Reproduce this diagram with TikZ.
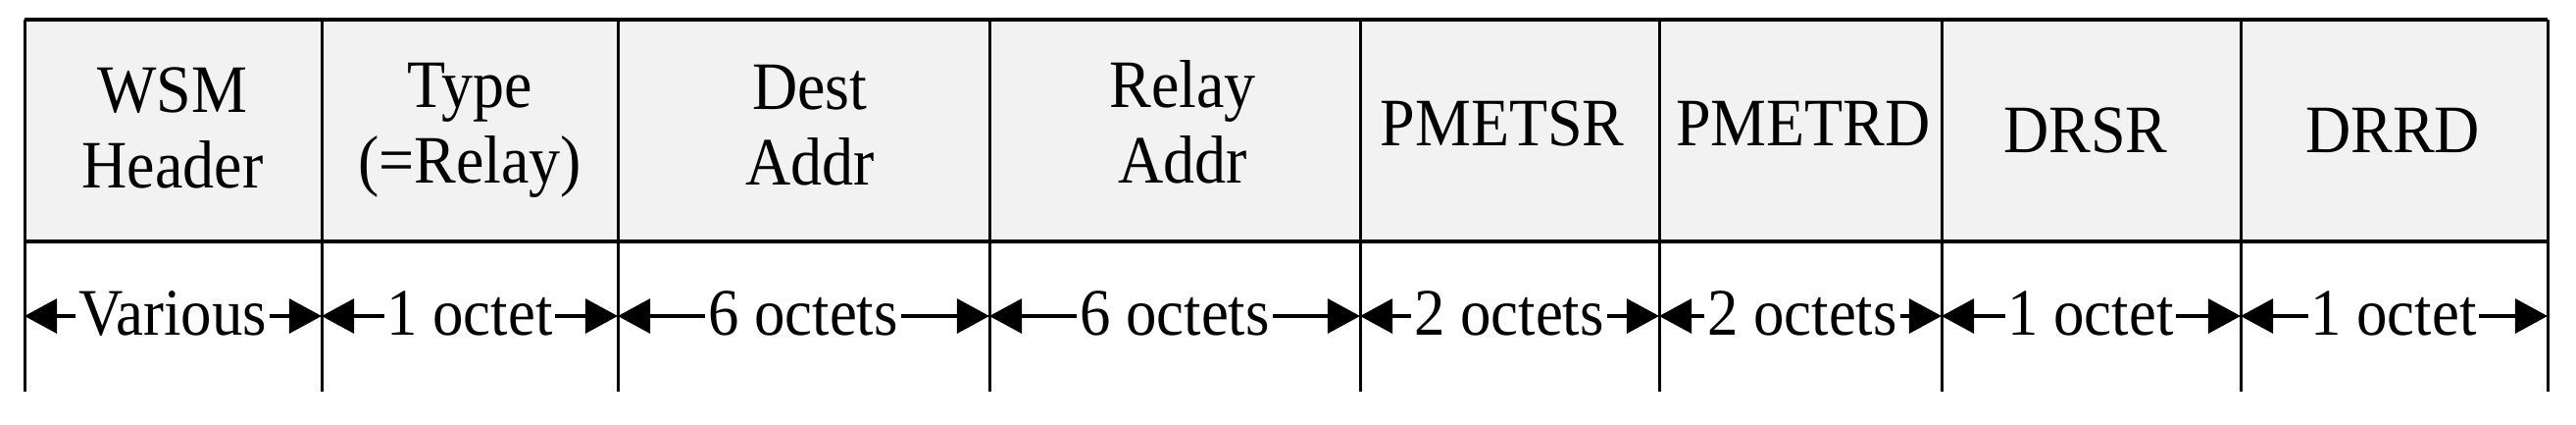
\documentclass[tikz,border=0pt]{standalone}
\usepackage{fontspec}
\usepackage{graphicx}
\setmainfont{Liberation Serif}
\usetikzlibrary{arrows.meta}
\definecolor{cellgray}{HTML}{F2F2F2}
\newcommand{\vstretch}[1]{\scalebox{1}[1.08]{#1}}
\begin{document}
\begin{tikzpicture}[x=0.25pt,y=-0.25pt,
  toplabel/.style={align=center,font=\fontsize{16}{19.25}\selectfont,inner sep=0pt,anchor=base},
  sizelabel/.style={font=\fontsize{15.7}{18}\selectfont,text height=9.5pt,text depth=0pt,inner ysep=0pt,inner xsep=0.5pt},
  dim/.style={line width=0.8pt,-{Triangle[length=8.3pt,width=8.8pt]}},
  divider/.style={line width=0.75pt},
  frame/.style={line width=1pt}]
\useasboundingbox (0,0) rectangle (2627,432);
% gray band
\fill[cellgray] (25,20) rectangle (2598,246);
% dividers
\foreach \x in {25,328,630,1009,1387,1692,1980,2285,2598}
  \draw[divider] (\x,20) -- (\x,399);
\draw[frame] (25,20) -- (2598,20);
\draw[frame] (25,246) -- (2598,246);
% field names (anchor at baseline of the last line)
\node[toplabel] (f1) at (176,191) {\vstretch{WSM}\\\vstretch{Header}};
\node[toplabel] (f2) at (479,186) {\vstretch{Type}\\\vstretch{(=Relay)}};
\node[toplabel] (f3) at (826,188) {\vstretch{Dest}\\\vstretch{Addr}};
\node[toplabel] (f4) at (1206,186) {\vstretch{Relay}\\\vstretch{Addr}};
\node[toplabel] (f5) at (1532,148) {\vstretch{PMETSR}};
\node[toplabel] (f6) at (1839,148) {\vstretch{PMETRD}};
\node[toplabel] (f7) at (2127,155) {\vstretch{DRSR}};
\node[toplabel] (f8) at (2440,155) {\vstretch{DRRD}};
% arrow ends
\foreach \i/\x in {0/25,1/328,2/630,3/1009,4/1387,5/1692,6/1980,7/2285,8/2598}
  \coordinate (d\i) at (\x,322);
% size labels
\node[sizelabel] (s1) at (176,322) {\vstretch{Various}};
\node[sizelabel] (s2) at (479,322) {\vstretch{1 octet}};
\node[sizelabel] (s3) at (819,322) {\vstretch{6 octets}};
\node[sizelabel] (s4) at (1198,322) {\vstretch{6 octets}};
\node[sizelabel] (s5) at (1539,322) {\vstretch{2 octets}};
\node[sizelabel] (s6) at (1838,322) {\vstretch{2 octets}};
\node[sizelabel] (s7) at (2132,322) {\vstretch{1 octet}};
\node[sizelabel] (s8) at (2441,322) {\vstretch{1 octet}};
\foreach \i [evaluate=\i as \j using int(\i-1)] in {1,...,8} {
  \draw[dim] (s\i.west) -- (d\j);
  \draw[dim] (s\i.east) -- (d\i);
}
\end{tikzpicture}
\end{document}
